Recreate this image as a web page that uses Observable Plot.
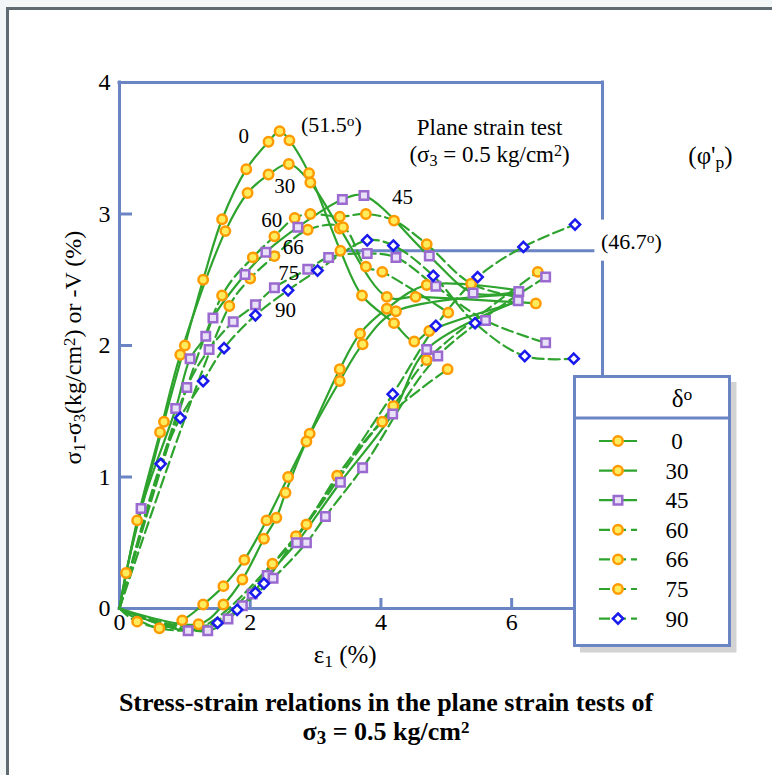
<!DOCTYPE html>
<html>
<head>
<meta charset="utf-8">
<script src="https://cdn.jsdelivr.net/npm/d3@7"></script>
<script src="https://cdn.jsdelivr.net/npm/@observablehq/plot@0.6"></script>
<style>
  body { margin: 0; background: #f2f6f6; }
  #page { position: relative; width: 772px; height: 775px; overflow: hidden; font-family: "Liberation Serif", "Times New Roman", serif; }
  #sheet { position: absolute; left: 6px; top: 7px; right: -10px; bottom: -10px; background: #fff;
           border-top: 3px solid #5f6b70; border-left: 3px solid #5f6b70; }
  #chart { position: absolute; left: 0; top: 0; }
  #legend { position: absolute; left: 573px; top: 375px; }
  #caption { position: absolute; left: 0; top: 688px; width: 772px; text-align: center;
             font-weight: bold; font-size: 26px; line-height: 29px; }
  #caption sub { font-size: 19px; vertical-align: -4px; line-height: 0; }
  #caption sup { font-size: 17px; vertical-align: 7px; line-height: 0; }
</style>
</head>
<body>
<div id="page">
  <div id="sheet"></div>
  <div id="chart"></div>
  <div id="legend"></div>
  <div id="caption">Stress-strain relations in the plane strain tests of<br>σ<sub>3</sub> = 0.5 kg/cm<sup>2</sup></div>
</div>
<script>
// ---- Bedding angles δ (degrees) and how each test is drawn in the key ----
const deltas = [0, 30, 45, 60, 66, 75, 90];
const keySymbols = ["circle", "circle", "square", "circle", "circle", "circle", "diamond"];
const keyDashed = [false, false, false, true, true, true, true];

// ---- Principal stress difference σ1-σ3 (kg/cm²) against axial strain ε1 (%) ----
const stress0  = [[0.10,0.27],[0.68,1.42],[1.00,2.00],[1.28,2.50],[1.57,2.96],[1.94,3.34],[2.28,3.55],[2.45,3.63],[2.60,3.56],[2.90,3.31],[3.38,2.72],[3.71,2.38],[4.20,2.17],[4.51,2.03],[4.74,2.11]];
const stress30 = [[0.27,0.67],[0.62,1.34],[0.93,1.93],[1.62,2.87],[1.96,3.16],[2.28,3.30],[2.59,3.38],[2.92,3.24],[3.37,2.89],[4.09,2.37],[4.53,2.37],[6.37,2.32]];
const stress45 = [[0.33,0.76],[0.86,1.52],[1.08,1.90],[1.32,2.07],[1.43,2.21],[1.92,2.54],[2.24,2.71],[2.73,2.90],[3.41,3.11],[3.74,3.14],[4.74,2.68],[5.41,2.40],[6.11,2.41]];
const stress60 = [[1.57,2.38],[2.04,2.67],[2.37,2.83],[2.68,2.97],[2.92,3.00],[3.37,2.98],[3.77,3.00],[4.20,2.95],[4.70,2.77],[5.38,2.47]];
const stress66 = [[1.68,2.30],[2.00,2.51],[2.37,2.68],[2.88,2.88],[3.42,2.90],[3.77,2.60],[4.02,2.56],[5.03,2.25]];
const stress75 = [[1.03,1.68],[1.37,1.97],[1.74,2.18],[2.08,2.31],[2.37,2.44],[2.88,2.58],[3.20,2.67],[3.79,2.70],[4.23,2.67],[4.84,2.45],[5.60,2.19],[6.52,2.02]];
const stress90 = [[0.63,1.10],[0.93,1.45],[1.28,1.73],[1.60,1.98],[2.08,2.23],[2.58,2.42],[3.03,2.57],[3.79,2.80],[4.19,2.76],[4.80,2.53],[5.44,2.17],[6.20,1.92],[6.95,1.90]];

// ---- Volumetric strain -V (%) against axial strain ε1 (%) ----
const vol0  = [[0.61,-0.15],[0.96,-0.09],[1.28,0.03],[1.59,0.17],[1.91,0.37],[2.25,0.67],[2.58,1.00],[2.91,1.33],[3.37,1.82],[3.68,2.09],[4.09,2.28],[4.70,2.46]];
const vol30 = [[1.21,-0.12],[1.59,0.03],[1.88,0.22],[2.21,0.53],[2.40,0.69],[2.54,0.88],[2.86,1.27],[3.37,1.73],[3.72,2.01],[4.23,2.26]];
const vol45 = [[1.05,-0.17],[1.66,-0.08],[2.03,0.11],[2.26,0.25],[2.71,0.50],[3.38,0.96],[4.18,1.48],[4.70,1.97],[6.10,2.34]];
const vol60 = [[0.27,-0.10],[2.34,0.34],[2.86,0.64],[3.33,1.01],[4.19,1.54],[4.70,1.89],[6.40,2.56]];
const vol66 = [[2.70,0.55],[4.02,1.42],[5.02,1.82]];
const vol75 = [[1.35,-0.17],[1.88,0.02],[2.35,0.23],[2.86,0.50],[3.15,0.70],[3.72,1.07],[4.87,1.92],[6.52,2.52]];
const vol90 = [[1.50,-0.11],[1.80,-0.01],[2.08,0.12],[2.21,0.19],[4.18,1.63],[4.84,2.15],[5.48,2.52],[6.18,2.75],[6.97,2.92]];

// ---- Stretches of the fitted curves that carry no measured point ----
const fit0   = [[6.08,2.33]];
const fit60  = [[6.08,2.37]];
const fitV0  = [[6.08,2.42]];
const fitV30 = [[6.08,2.39]];
const fitV60 = [[1.20,-0.15]];
const fitV66 = [[1.25,-0.15]];
const fitV90 = [[0.90,-0.13]];

// ---- Axis ticks ----
const xTickLabels = [0, 2, 4, 6];
const yTickLabels = [0, 1, 2, 3, 4];
const xTickMarks = [2, 4, 6];
const yTickMarks = [1, 2, 3];

// ---- Lowest peak strength of the series (φ'p = 46.7°) ----
const minPeakStress = 2.72;

// Curve table: every test gives one stress curve and one volume-change curve
const curves = [
  {id: "s0",  dashed: false, symbol: "circle",  pts: stress0,  fit: fit0},
  {id: "s30", dashed: false, symbol: "circle",  pts: stress30},
  {id: "s45", dashed: false, symbol: "square",  pts: stress45},
  {id: "s60", dashed: true,  symbol: "circle",  pts: stress60, fit: fit60},
  {id: "s66", dashed: true,  symbol: "circle",  pts: stress66},
  {id: "s75", dashed: true,  symbol: "square",  pts: stress75},
  {id: "s90", dashed: true,  symbol: "diamond", pts: stress90},
  {id: "v0",  dashed: false, symbol: "circle",  pts: vol0,  fit: fitV0},
  {id: "v30", dashed: false, symbol: "circle",  pts: vol30, fit: fitV30},
  {id: "v45", dashed: false, symbol: "square",  pts: vol45},
  {id: "v60", dashed: true,  symbol: "circle",  pts: vol60, fit: fitV60},
  {id: "v66", dashed: true,  symbol: "circle",  pts: vol66, fit: fitV66},
  {id: "v75", dashed: true,  symbol: "square",  pts: vol75},
  {id: "v90", dashed: true,  symbol: "diamond", pts: vol90, fit: fitV90}
];

// Every test starts from zero strain, zero stress and zero volume change
const lineRows = curves.flatMap(c =>
  [[0, 0], ...c.pts, ...(c.fit || [])]
    .sort((a, b) => a[0] - b[0])
    .map(([x, y]) => ({id: c.id, dashed: c.dashed, x, y})));
const dotRows = curves.flatMap(c => c.pts.map(([x, y]) => ({symbol: c.symbol, x, y})));

// ---- Styling ----
const green = "#2ea32e";
const frameColor = "#6b84c4";
const dash = "11,5";
const markerStyle = {
  circle:  {symbol: "circle",   r: 4.7, fill: "#ffec5c", stroke: "#ff9a00"},
  square:  {symbol: "square",   r: 4.8, fill: "#e9e1f7", stroke: "#9a6ad0"},
  diamond: {symbol: "diamond2", r: 4.6, fill: "#ffffff", stroke: "#1a1aee"}
};

// ---- Layout ----
const W = 772, H = 680;
const M = {left: 119, right: 170, top: 82, bottom: 72};
const xMax = 7.39, yMax = 4;
const pxX = (W - M.left - M.right) / xMax;
const pxY = (H - M.top - M.bottom) / yMax;
const legendBox = {left: 573, top: 376, width: 158, height: 272};
const legendLeftX = (legendBox.left - M.left) / pxX;
const legendTopY = (H - M.bottom - legendBox.top) / pxY;

const curveLabels = [
  {text: "0",  x: 1.90, y: 3.59},
  {text: "30", x: 2.53, y: 3.21},
  {text: "45", x: 4.33, y: 3.13},
  {text: "60", x: 2.33, y: 2.95},
  {text: "66", x: 2.66, y: 2.75},
  {text: "75", x: 2.59, y: 2.55},
  {text: "90", x: 2.54, y: 2.27}
];

const frameOpts = {stroke: frameColor, strokeWidth: 3, strokeLinecap: "square"};
const tickOpts = {stroke: frameColor, strokeWidth: 3};

const chart = Plot.plot({
  width: W, height: H,
  marginLeft: M.left, marginRight: M.right, marginTop: M.top, marginBottom: M.bottom,
  x: {domain: [0, xMax], ticks: xTickLabels, tickFormat: "d", tickSize: 0, tickPadding: 4, label: null},
  y: {domain: [0, yMax], ticks: yTickLabels, tickFormat: "d", tickSize: 0, tickPadding: 9, label: null},
  style: {fontFamily: '"Liberation Serif", "Times New Roman", serif', fontSize: "24px", color: "#000", background: "none", overflow: "visible"},
  marks: [
    // plot frame, broken on the right for the (46.7°) note and cut by the key
    Plot.ruleY([yMax], {x1: 0, x2: xMax, ...frameOpts}),
    Plot.ruleX([0], {y1: 0, y2: yMax, ...frameOpts}),
    Plot.ruleY([0], {x1: 0, x2: legendLeftX, ...frameOpts}),
    Plot.ruleX([xMax], {y1: yMax, y2: minPeakStress + 0.245, ...frameOpts}),
    Plot.ruleX([xMax], {y1: minPeakStress - 0.09, y2: legendTopY, ...frameOpts}),
    Plot.ruleY([minPeakStress], {x1: 3.43, x2: 7.25, ...frameOpts}),
    // inward ticks
    Plot.ruleY(yTickMarks, {x1: 0, x2: 13 / pxX, ...tickOpts}),
    Plot.ruleX(xTickMarks, {y1: 0, y2: 10 / pxY, ...tickOpts}),
    // fitted curves
    Plot.line(lineRows.filter(d => !d.dashed), {x: "x", y: "y", z: "id", curve: "catmull-rom", stroke: green, strokeWidth: 2.2}),
    Plot.line(lineRows.filter(d => d.dashed), {x: "x", y: "y", z: "id", curve: "catmull-rom", stroke: green, strokeWidth: 2.2, strokeDasharray: dash}),
    // measured points
    ...Object.entries(markerStyle).map(([k, s]) =>
      Plot.dot(dotRows.filter(d => d.symbol === k), {x: "x", y: "y", symbol: s.symbol, r: s.r, fill: s.fill, stroke: s.stroke, strokeWidth: 2.5})),
    Plot.text(curveLabels, {x: "x", y: "y", text: "text", fontSize: 21})
  ]
});
document.getElementById("chart").append(chart);

// ---- Texts with sub- and superscripts ----
const sx = chart.scale("x"), sy = chart.scale("y");
const svg = d3.select(chart);
function rich(parts, attrs) {
  const t = svg.append("text").attr("text-anchor", "middle").attr("dy", "0.35em").attr("fill", "#000");
  Object.entries(attrs).forEach(([k, v]) => t.attr(k, v));
  for (const [s, kind] of parts) {
    const ts = t.append("tspan").text(s);
    if (kind) ts.attr("baseline-shift", kind === "sub" ? "-22%" : "38%").attr("font-size", "70%");
  }
  return t;
}
rich([["Plane strain test"]], {x: sx.apply(5.67), y: sy.apply(3.66), "font-size": 23});
rich([["(σ"], ["3", "sub"], [" = 0.5 kg/cm"], ["2", "sup"], [")"]], {x: sx.apply(5.67), y: sy.apply(3.455), "font-size": 23});
rich([["(51.5"], ["o", "sup"], [")"]], {x: sx.apply(3.25), y: sy.apply(3.675), "font-size": 22});
rich([["(46.7"], ["o", "sup"], [")"]], {x: sx.apply(7.84), y: sy.apply(2.79), "font-size": 22});
rich([["(φ'"], ["p", "sub"], [")"]], {x: sx.apply(9.05), y: sy.apply(3.445), "font-size": 25});
rich([["ε"], ["1", "sub"], [" (%)"]], {x: sx.apply(3.46), y: H - M.bottom + 46, "font-size": 25});
rich([["σ"], ["1", "sub"], ["-σ"], ["3", "sub"], ["(kg/cm"], ["2", "sup"], [") or -V (%)"]],
     {transform: `translate(73,${sy.apply(1.98)}) rotate(-90)`, "font-size": 24});

// ---- Key ----
const key = d3.select("#legend").append("svg").attr("width", 172).attr("height", 285);
const bw = legendBox.width - 3, bh = legendBox.height - 3;
key.append("rect").attr("x", 7).attr("y", 7).attr("width", bw + 1.5).attr("height", bh + 1.5).attr("fill", "#d3d3d3");
key.append("rect").attr("x", 1.5).attr("y", 1.5).attr("width", bw).attr("height", bh)
   .attr("fill", "#fff").attr("stroke", frameColor).attr("stroke-width", 3);
key.append("line").attr("x1", 1.5).attr("x2", bw + 1.5).attr("y1", 43).attr("y2", 43)
   .attr("stroke", frameColor).attr("stroke-width", 3);
const head = key.append("text").attr("x", 109).attr("y", 23).attr("dy", "0.35em").attr("text-anchor", "middle")
   .attr("font-size", 25).attr("font-family", '"Liberation Serif", serif');
head.append("tspan").text("δ");
head.append("tspan").text("o").attr("baseline-shift", "38%").attr("font-size", "70%");
const symbolType = {square: d3.symbolSquare, diamond: d3.symbolDiamond2};
deltas.forEach((d, i) => {
  const y = 66 + i * 29.6;
  const st = markerStyle[keySymbols[i]];
  key.append("line").attr("x1", 26).attr("x2", 64).attr("y1", y).attr("y2", y)
     .attr("stroke", green).attr("stroke-width", 2.2).attr("stroke-dasharray", keyDashed[i] ? dash : null);
  if (keySymbols[i] === "circle") {
    key.append("circle").attr("cx", 45).attr("cy", y).attr("r", st.r)
       .attr("fill", st.fill).attr("stroke", st.stroke).attr("stroke-width", 2.5);
  } else {
    key.append("path").attr("transform", `translate(45,${y})`)
       .attr("d", d3.symbol(symbolType[keySymbols[i]], Math.PI * st.r * st.r)())
       .attr("fill", st.fill).attr("stroke", st.stroke).attr("stroke-width", 2.5);
  }
  key.append("text").attr("x", 104).attr("y", y).attr("dy", "0.35em").attr("text-anchor", "middle")
     .attr("font-size", 23).attr("font-family", '"Liberation Serif", serif').text(d);
});
</script>
</body>
</html>
